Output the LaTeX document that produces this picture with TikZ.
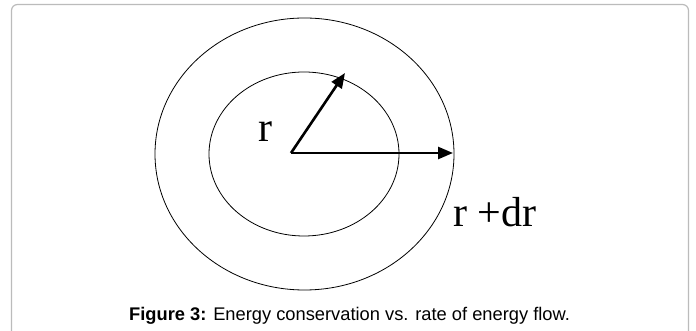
\documentclass[tikz,border=0pt]{standalone}
\usepackage{fontspec}
\setmainfont{Liberation Serif}
\newfontfamily\sansfig{Liberation Sans}
\usetikzlibrary{arrows.meta}
\definecolor{GrisMarco}{HTML}{BBBBBB}
\tikzset{
  flecha/.style   = {-{Triangle[length=15pt,width=12pt]}, line width=2.6pt},
  circulo/.style  = {draw, line width=0.8pt},
  etiqueta/.style = {font=\fontsize{42}{48}\selectfont, inner sep=0pt},
  pie/.style      = {font=\sansfig\fontsize{18.3}{21}\selectfont, inner sep=0pt},
  marco/.style    = {draw=GrisMarco, line width=1.2pt, rounded corners=6pt},
}

\begin{document}
\begin{tikzpicture}[x=1pt,y=1pt]
  \useasboundingbox (0,0) rectangle (696,331);
  \draw[marco] (11.5,-20) -- (11.5,326.5) -- (688.5,326.5) -- (688.5,-20);
  \coordinate (O) at (291,178);
  \coordinate (A) at (345,258);
  \coordinate (B) at (453,178);
  \draw[circulo] (304.5,177) ellipse [x radius=149.5, y radius=136];
  \draw[circulo] (304,177) ellipse [x radius=95, y radius=82];
  \draw[flecha] (O) -- (A);
  \draw[flecha] (O) -- (B);
  \node[etiqueta, anchor=base] (lr) at (265.5,189) {r};
  \node[etiqueta, anchor=base west] (lrdr) at (453,104) {r +dr};
  \node[pie, anchor=base west] (cap) at (129,10) {\textbf{Figure 3:} Energy conservation vs. rate of energy flow.};
\end{tikzpicture}
\end{document}
